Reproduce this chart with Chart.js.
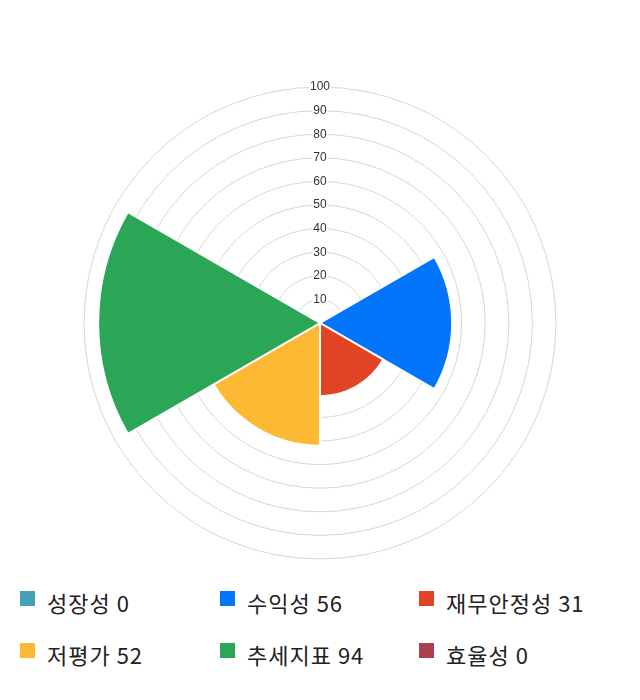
<!DOCTYPE html>
<html>
<head>
<meta charset="utf-8">
<script src="https://cdn.jsdelivr.net/npm/chart.js@4.4.0/dist/chart.umd.min.js"></script>
<style>
  html, body { margin: 0; padding: 0; background: #fff; }
  #wrap { position: relative; width: 640px; height: 700px; }
  #chartBox { position: absolute; left: 0; top: 0; width: 640px; height: 580px; }
  #legend { position: absolute; left: 0; top: 586px; width: 640px; }
  .item { position: absolute; display: flex; align-items: center; font-family: "Noto Sans CJK KR", "Noto Sans", sans-serif; font-size: 22px; color: #222; white-space: nowrap; letter-spacing: 1px; }
  .box { width: 15px; height: 15px; margin-right: 12px; margin-top: -8px; }
</style>
</head>
<body>
<div id="wrap">
  <div id="chartBox"><canvas id="c"></canvas></div>
  <div id="legend"></div>
</div>
<script>
const categories = ["성장성", "수익성", "재무안정성", "저평가", "추세지표", "효율성"];
const values = [0, 56, 31, 52, 94, 0];
const colors = ["#479FB8", "#0275FA", "#E24325", "#FDB933", "#2BA656", "#A7414F"];
const tickValues = [0, 10, 20, 30, 40, 50, 60, 70, 80, 90, 100];

new Chart(document.getElementById("c"), {
  type: "polarArea",
  data: {
    labels: categories,
    datasets: [{
      data: values,
      backgroundColor: colors,
      borderColor: "#fff",
      borderWidth: 2
    }]
  },
  options: {
    responsive: true,
    maintainAspectRatio: false,
    animation: false,
    layout: { padding: { top: 80, bottom: 14 } },
    plugins: { legend: { display: false }, tooltip: { enabled: false } },
    scales: {
      r: {
        min: 0,
        max: 100,
        afterBuildTicks: (s) => { s.ticks = tickValues.map(v => ({ value: v })); },
        ticks: {
          font: { family: "Liberation Sans, Arial, sans-serif", size: 12 },
          color: "#333",
          showLabelBackdrop: true,
          backdropColor: "#fff",
          backdropPadding: 1,
          z: 1
        },
        grid: { color: "#d6d6d6", lineWidth: 1 },
        angleLines: { display: false },
        pointLabels: { display: false }
      }
    }
  }
});

const legend = document.getElementById("legend");
const colX = [20, 220, 419];
categories.forEach((name, i) => {
  const el = document.createElement("div");
  el.className = "item";
  el.style.left = colX[i % 3] + "px";
  el.style.top = (Math.floor(i / 3) * 52) + "px";
  el.innerHTML = '<span class="box" style="background:' + colors[i] + '"></span><span>' + name + ' ' + values[i] + '</span>';
  legend.appendChild(el);
});
</script>
</body>
</html>
